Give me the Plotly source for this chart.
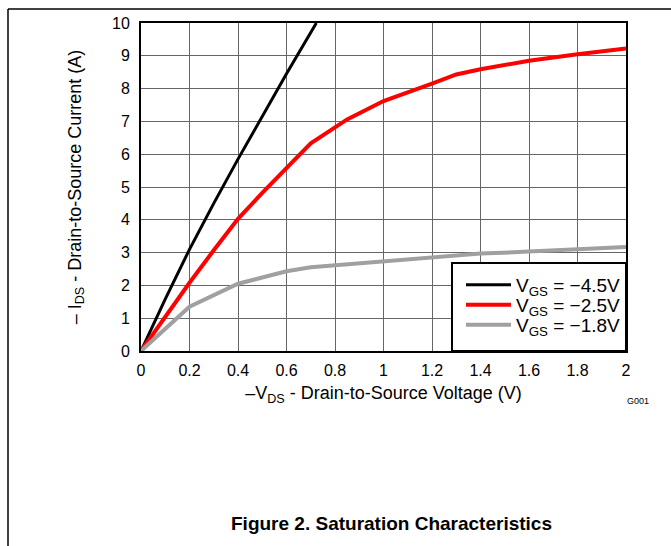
import plotly.graph_objects as go

# ---- data ----
vds_45 = [0, 0.1, 0.2, 0.3, 0.4, 0.5, 0.6, 0.723]
ids_45 = [0, 1.58, 3.1, 4.5, 5.85, 7.15, 8.45, 10.0]

vds_25 = [0, 0.1, 0.2, 0.3, 0.4, 0.5, 0.6, 0.7, 0.85, 1.0, 1.2, 1.3, 1.4, 1.6, 1.8, 2.0]
ids_25 = [0, 1.05, 2.08, 3.07, 4.03, 4.82, 5.59, 6.33, 7.06, 7.62, 8.15, 8.43, 8.59, 8.85, 9.05, 9.22]

vds_18 = [0, 0.2, 0.4, 0.6, 0.7, 0.8, 1.0, 1.2, 1.4, 1.6, 1.8, 2.0]
ids_18 = [0, 1.35, 2.05, 2.43, 2.55, 2.61, 2.76, 2.88, 2.97, 3.03, 3.10, 3.17]

series_names = ["V<sub>GS</sub> = \u22124.5V", "V<sub>GS</sub> = \u22122.5V", "V<sub>GS</sub> = \u22121.8V"]
series_colors = ["#000000", "#FF0000", "#A0A0A0"]
series_widths = [3, 4, 4]

x_title = "\u2013V<sub>DS</sub> - Drain-to-Source Voltage (V)"
y_title = "\u2013 I<sub>DS</sub> - Drain-to-Source Current (A)"
fig_title = "Figure 2. Saturation Characteristics"
code_label = "G001"

FONT = "Liberation Sans, Arial, sans-serif"

W, H = 671, 546
L, R, T, B = 141, 626, 23, 351


def px(xp):
    return (xp - L) / (R - L)


def py(yp):
    return (B - yp) / (B - T)


legend_ids = ["legend", "legend2", "legend3"]
legend_rows = [285, 305, 325]

fig = go.Figure()
for xs, ys, name, col, w, lg in zip([vds_45, vds_25, vds_18], [ids_45, ids_25, ids_18],
                                    series_names, series_colors, series_widths, legend_ids):
    fig.add_trace(go.Scatter(x=xs, y=ys, mode="lines", name=name, legend=lg,
                             line=dict(color=col, width=w)))

legend_common = dict(xanchor="left", yanchor="middle", bgcolor="rgba(0,0,0,0)",
                     borderwidth=0, itemwidth=45,
                     font=dict(family=FONT, size=19, color="black"))

fig.update_layout(
    width=W, height=H,
    margin=dict(l=L, r=W - R, t=T, b=H - B),
    paper_bgcolor="white", plot_bgcolor="white",
    font=dict(family=FONT, size=16, color="black"),
    showlegend=True,
    legend=dict(x=px(461), y=py(legend_rows[0]), **legend_common),
    legend2=dict(x=px(461), y=py(legend_rows[1]), **legend_common),
    legend3=dict(x=px(461), y=py(legend_rows[2]), **legend_common),
)

fig.update_xaxes(range=[0, 2], dtick=0.2, tick0=0, showgrid=True, gridcolor="#666666",
                 gridwidth=1, showline=True, linecolor="black", linewidth=2, mirror=True,
                 zeroline=False, ticks="", ticklabelstandoff=4,
                 tickfont=dict(family=FONT, size=16),
                 title=dict(text=x_title, font=dict(family=FONT, size=18), standoff=8))
fig.update_yaxes(range=[0, 10], dtick=1, tick0=0, showgrid=True, gridcolor="#666666",
                 gridwidth=1, showline=True, linecolor="black", linewidth=2, mirror=True,
                 zeroline=False, ticks="", ticklabelstandoff=6,
                 tickfont=dict(family=FONT, size=16),
                 title=dict(text=y_title, font=dict(family=FONT, size=18), standoff=26))

# legend box
fig.add_shape(type="rect", xref="paper", yref="paper",
              x0=px(452), x1=1, y0=0, y1=py(263),
              fillcolor="white", line=dict(color="black", width=2), layer="above")

# page frame lines (top and left)
fig.add_shape(type="line", xref="paper", yref="paper",
              x0=px(8), x1=px(680), y0=py(9), y1=py(9),
              line=dict(color="black", width=1.5))
fig.add_shape(type="line", xref="paper", yref="paper",
              x0=px(8), x1=px(8), y0=py(9), y1=py(560),
              line=dict(color="black", width=1.5))

fig.add_annotation(text=code_label, xref="paper", yref="paper",
                   x=px(638), y=py(401), xanchor="center", yanchor="middle", showarrow=False,
                   font=dict(family=FONT, size=9, color="black"))
fig.add_annotation(text="<b>" + fig_title + "</b>", xref="paper", yref="paper",
                   x=px(391), y=py(523), xanchor="center", yanchor="middle", showarrow=False,
                   font=dict(family="Liberation Sans Narrow, Liberation Sans, Arial", size=19,
                             color="black"))

fig.write_html("out.html", config={"displayModeBar": False},
               post_script="document.body.style.margin='0px';")
